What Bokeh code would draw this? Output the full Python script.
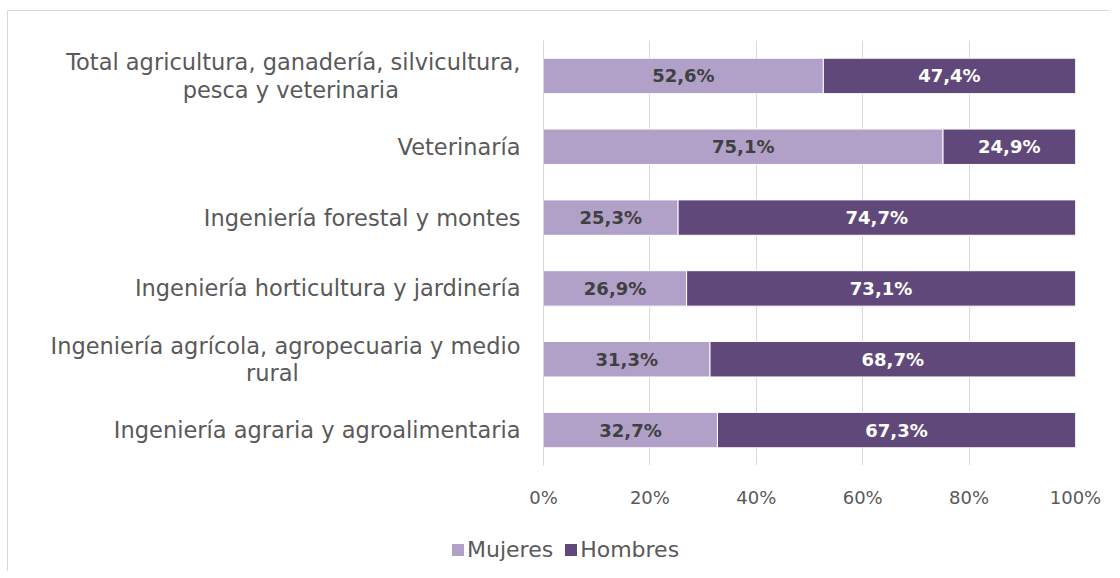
from bokeh.plotting import figure
from bokeh.layouts import column
from bokeh.models import ColumnDataSource, FixedTicker, Legend, LegendItem
from bokeh.core.properties import value
from bokeh.embed import file_html
from bokeh.resources import INLINE

categories = [
    "Total agricultura, ganadería, silvicultura,\npesca y veterinaria",
    "Veterinaría",
    "Ingeniería forestal y montes",
    "Ingeniería horticultura y jardinería",
    "Ingeniería agrícola, agropecuaria y medio\nrural",
    "Ingeniería agraria y agroalimentaria",
]
mujeres = [52.6, 75.1, 25.3, 26.9, 31.3, 32.7]
hombres = [47.4, 24.9, 74.7, 73.1, 68.7, 67.3]
series_names = ["Mujeres", "Hombres"]
x_ticks = [0, 20, 40, 60, 80, 100]
x_tick_labels = ["0%", "20%", "40%", "60%", "80%", "100%"]

C_LIGHT = "#B1A0C7"
C_DARK = "#60497A"
COLORS = [C_LIGHT, C_DARK]
FONT = "DejaVu Sans"
NBSP = "\u00A0"
ZW = "\u200B"

def fmt(v):
    return f"{v:.1f}".replace(".", ",") + "%"

# centre the second line of wrapped labels under the first (the axis text is right-aligned)
PAD = {0: 17, 4: 31}
def display(i, c):
    if i in PAD:
        a, b = c.split("\n")
        return a + "\n" + b + NBSP * PAD[i] + ZW
    return c
factors = [display(i, c) for i, c in enumerate(categories)]

src = ColumnDataSource(dict(
    cat=factors,
    Mujeres=mujeres,
    Hombres=hombres,
    m_mid=[m / 2 for m in mujeres],
    h_mid=[m + h / 2 for m, h in zip(mujeres, hombres)],
    m_lab=[fmt(v) for v in mujeres],
    h_lab=[fmt(v) for v in hombres],
))

p = figure(
    y_range=list(reversed(factors)), x_range=(0, 100),
    width=1101, height=510, output_backend="svg", toolbar_location=None,
    min_border_left=535, min_border_right=34, min_border_top=29, min_border_bottom=56,
)
p.frame_align = False
p.outline_line_color = None
p.background_fill_color = "white"
p.border_fill_color = "white"

rs = p.hbar_stack(series_names, y="cat", height=0.5, source=src,
                  color=COLORS, line_color="white", line_width=1)

p.text(x="m_mid", y="cat", text="m_lab", source=src, text_align="center",
       text_baseline="middle", text_font=value(FONT), text_font_style="bold",
       text_font_size="18px", text_color="#404040")
p.text(x="h_mid", y="cat", text="h_lab", source=src, text_align="center",
       text_baseline="middle", text_font=value(FONT), text_font_style="bold",
       text_font_size="18px", text_color="white")

# x axis
p.xaxis.ticker = FixedTicker(ticks=x_ticks)
p.xaxis.major_label_overrides = {t: l for t, l in zip(x_ticks, x_tick_labels)}
p.xaxis.axis_line_color = None
p.xaxis.major_tick_line_color = None
p.xaxis.minor_tick_line_color = None
p.xaxis.major_label_text_font = FONT
p.xaxis.major_label_text_font_size = "18px"
p.xaxis.major_label_text_color = "#595959"
p.xaxis.major_label_standoff = 15

# y axis
p.yaxis.axis_line_color = "#D9D9D9"
p.yaxis.major_tick_line_color = None
p.yaxis.minor_tick_line_color = None
p.yaxis.major_label_text_font = FONT
p.yaxis.major_label_text_font_size = "22.5px"
p.yaxis.major_label_text_color = "#595959"
p.yaxis.major_label_text_line_height = 1.05
p.yaxis.major_label_standoff = 17
p.yaxis.major_label_text_align = "right"

p.xgrid.grid_line_color = "#D9D9D9"
p.xgrid.grid_line_width = 1
p.ygrid.grid_line_color = None

# legend strip: separate figure so the legend can sit left of the plot frame.
# Its (hidden) bars come from the same data; only their legend swatches show.
pl = figure(width=1101, height=50, output_backend="svg", toolbar_location=None,
            x_axis_location=None, y_axis_location=None, min_border=0,
            x_range=(0, 100), y_range=list(reversed(factors)))
pl.frame_align = False
pl.outline_line_color = None
pl.grid.visible = False
pl.border_fill_color = "white"
leg_rs = pl.hbar_stack(series_names, y="cat", height=0.5, source=src,
                       color=COLORS, line_color=None, visible=False)
legend = Legend(items=[LegendItem(label=n, renderers=[r]) for n, r in zip(series_names, leg_rs)],
                orientation="horizontal", location=(442, 9),
                label_text_font=FONT, label_text_font_size="22px",
                label_text_color="#595959", glyph_width=15, glyph_height=15,
                label_standoff=2, spacing=10, padding=0, margin=0,
                inactive_fill_alpha=0,
                border_line_color=None, background_fill_alpha=0)
pl.add_layout(legend, "center")

layout = column(p, pl, spacing=0)
layout.styles = {"border-top": "1px solid #D9D9D9", "border-left": "1px solid #D9D9D9",
                 "margin-top": "10px", "margin-left": "7px"}

open("out.html", "w").write(file_html(layout, INLINE))
